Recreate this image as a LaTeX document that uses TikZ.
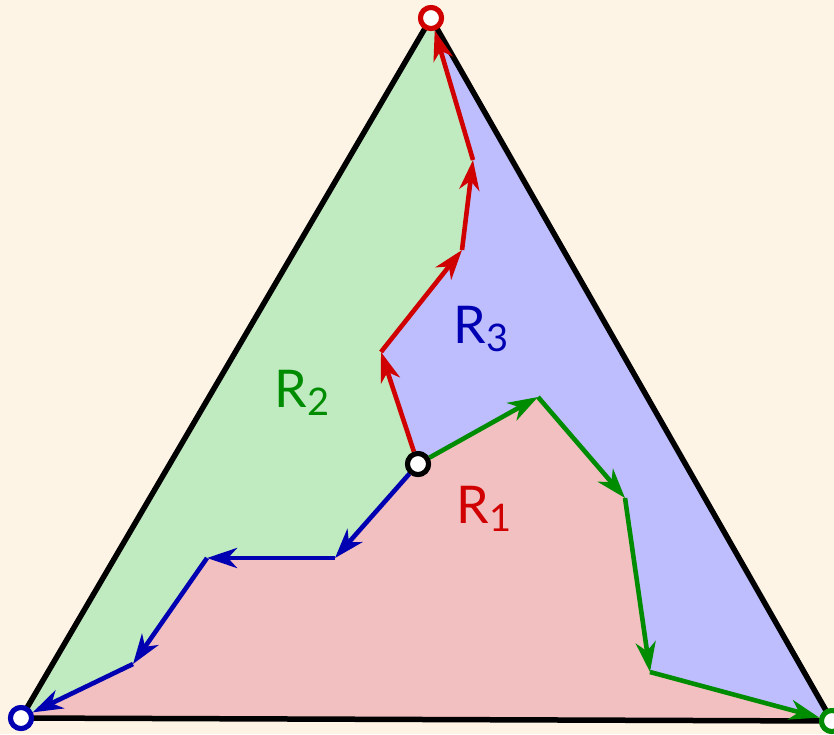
\documentclass[tikz,border=0pt]{standalone}
\usepackage{fontspec}
\setmainfont{Lato}
\usetikzlibrary{arrows.meta}
\definecolor{PartBg}{RGB}{254,244,230}
\definecolor{PartRed}{RGB}{208,0,0}
\definecolor{PartGreen}{RGB}{0,140,0}
\definecolor{PartBlue}{RGB}{0,0,178}
\definecolor{PartRedFill}{RGB}{242,192,192}
\definecolor{PartGreenFill}{RGB}{192,234,192}
\definecolor{PartBlueFill}{RGB}{190,190,255}
\tikzset{
  part/edge/.style={line width=5.5pt, draw=black, line join=round},
  part/walk/.style={-{Stealth[length=30pt,width=20pt,inset=9pt]}, line width=4.6pt},
  part/pin/.style={circle, line width=5pt, fill=white, minimum size=21pt, inner sep=0pt},
  part/label/.style={font=\fontsize{52}{52}\selectfont, inner sep=0pt}
}
\newcommand{\regionlabel}[1]{R\raisebox{-0.32ex}{\fontsize{38}{38}\selectfont #1}}

\begin{document}
\begin{tikzpicture}[x=1pt,y=-1pt]
  \fill[PartBg] (0,0) rectangle (834,734);
  \useasboundingbox (0,0) rectangle (834,734);
  % corners and inner points
  \coordinate (top) at (431,18);
  \coordinate (bl) at (21,718);
  \coordinate (br) at (832,721);
  \coordinate (c) at (418,464);
  \coordinate (r1) at (381,352);
  \coordinate (r2) at (462,250);
  \coordinate (r3) at (473,160);
  \coordinate (g1) at (538,397);
  \coordinate (g2) at (625,498);
  \coordinate (g3) at (650,672);
  \coordinate (b1) at (335,558);
  \coordinate (b2) at (207,558);
  \coordinate (b3) at (133,664);
  % regions
  \fill[PartGreenFill] (top) -- (r3) -- (r2) -- (r1) -- (c) -- (b1) -- (b2) -- (b3) -- (bl) -- cycle;
  \fill[PartBlueFill] (top) -- (r3) -- (r2) -- (r1) -- (c) -- (g1) -- (g2) -- (g3) -- (br) -- cycle;
  \fill[PartRedFill] (bl) -- (b3) -- (b2) -- (b1) -- (c) -- (g1) -- (g2) -- (g3) -- (br) -- cycle;
  \draw[part/edge] (top) -- (bl) -- (br) -- cycle;
  % end points
  \node[part/pin,draw=PartRed] (vtop) at (top) {};
  \node[part/pin,draw=PartBlue] (vbl) at (bl) {};
  \node[part/pin,draw=PartGreen] (vbr) at (br) {};
  \node[part/pin,draw=black] (vc) at (c) {};
  % walks
  \draw[part/walk,PartRed] (vc) -- (r1);
  \draw[part/walk,PartRed] (r1) -- (r2);
  \draw[part/walk,PartRed] (r2) -- (r3);
  \draw[part/walk,PartRed] (r3) -- (vtop);
  \draw[part/walk,PartGreen] (vc) -- (g1);
  \draw[part/walk,PartGreen] (g1) -- (g2);
  \draw[part/walk,PartGreen] (g2) -- (g3);
  \draw[part/walk,PartGreen] (g3) -- (vbr);
  \draw[part/walk,PartBlue] (vc) -- (b1);
  \draw[part/walk,PartBlue] (b1) -- (b2);
  \draw[part/walk,PartBlue] (b2) -- (b3);
  \draw[part/walk,PartBlue] (b3) -- (vbl);
  % redraw pins over the walks
  \node[part/pin,draw=PartRed] at (top) {};
  \node[part/pin,draw=PartBlue] at (bl) {};
  \node[part/pin,draw=PartGreen] at (br) {};
  \node[part/pin,draw=black] at (c) {};
  % labels
  \node[part/label,text=PartGreen] (lab2) at (302,393) {\regionlabel{2}};
  \node[part/label,text=PartBlue] (lab3) at (481,329) {\regionlabel{3}};
  \node[part/label,text=PartRed] (lab1) at (484,509) {\regionlabel{1}};
\end{tikzpicture}
\end{document}
